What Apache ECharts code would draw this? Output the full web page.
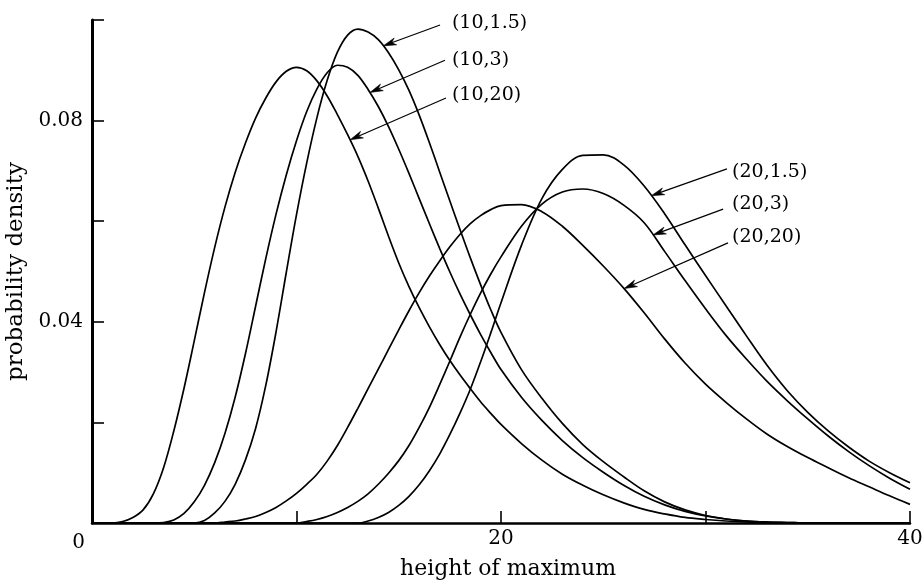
<!DOCTYPE html>
<html>
<head>
<meta charset="utf-8">
<script src="https://cdn.jsdelivr.net/npm/echarts@6/dist/echarts.min.js"></script>
<style>
  html, body { margin: 0; padding: 0; background: #fff; }
  #chart { width: 922px; height: 580px; }
</style>
</head>
<body>
<div id="chart"></div>
<script>
// Height of maximum (x values shared by every curve)
const heights = [
  0, 0.5, 1, 1.5, 2, 2.5, 3, 3.5, 4, 4.5, 5, 5.5, 6, 6.5, 7, 7.5, 8, 8.5, 9, 9.5,
  10, 10.5, 11, 11.5, 12, 12.5, 13, 13.5, 14, 14.5, 15, 15.5, 16, 16.5, 17, 17.5,
  18, 18.5, 19, 19.5, 20,
  21, 22, 23, 24, 25, 26, 27, 28, 29, 30, 31, 32, 33, 34, 35, 36, 37, 38, 39, 40
];

// Probability density for each parameter pair
const dens_10_20 = [
  0, 0, 0, 0.0003, 0.0011, 0.0026, 0.0058, 0.0110, 0.0183, 0.0268, 0.0362, 0.0458,
  0.0548, 0.0628, 0.0697, 0.0755, 0.0805, 0.0845, 0.0877, 0.0898,
  0.0906, 0.0899, 0.0879, 0.0849, 0.0812, 0.0772, 0.0729, 0.0680, 0.0626, 0.0570,
  0.0517, 0.0470, 0.0428, 0.0390, 0.0355, 0.0323, 0.0294, 0.0267, 0.0241, 0.0218, 0.0196,
  0.0158, 0.0125, 0.0097, 0.0075, 0.0056, 0.0040, 0.0027, 0.0018, 0.0011, 0.0007,
  0.0004, 0.0002, 0.0001, 0, 0, 0, 0, 0, 0, 0
];
const dens_10_3 = [
  0, 0, 0, 0, 0, 0, 0, 0.0001, 0.0006, 0.0019, 0.0042, 0.0075, 0.0120, 0.0178,
  0.0250, 0.0336, 0.0431, 0.0526, 0.0614, 0.0692,
  0.0760, 0.0818, 0.0863, 0.0895, 0.0910, 0.0906, 0.0890, 0.0862, 0.0828, 0.0788,
  0.0743, 0.0695, 0.0645, 0.0595, 0.0546, 0.0499, 0.0455, 0.0414, 0.0375, 0.0339, 0.0305,
  0.0250, 0.0204, 0.0164, 0.0130, 0.0101, 0.0075, 0.0053, 0.0036, 0.0023, 0.0014,
  0.0008, 0.0004, 0.0002, 0.0001, 0, 0, 0, 0, 0, 0
];
const dens_10_1p5 = [
  0, 0, 0, 0, 0, 0, 0, 0, 0, 0, 0, 0.0005, 0.0020, 0.0043, 0.0077, 0.0125, 0.0188,
  0.0274, 0.0380, 0.0498,
  0.0613, 0.0716, 0.0806, 0.0880, 0.0936, 0.0970, 0.0982, 0.0976, 0.0961, 0.0935,
  0.0901, 0.0860, 0.0811, 0.0756, 0.0698, 0.0640, 0.0583, 0.0527, 0.0474, 0.0424, 0.0379,
  0.0305, 0.0248, 0.0198, 0.0156, 0.0122, 0.0092, 0.0064, 0.0042, 0.0026, 0.0015,
  0.0008, 0.0004, 0.0002, 0.0001, 0, 0, 0, 0, 0, 0
];
const dens_20_20 = [
  0, 0, 0, 0, 0, 0, 0, 0, 0, 0, 0, 0, 0, 0.0002, 0.0004, 0.0008, 0.0013, 0.0021,
  0.0031, 0.0044,
  0.0059, 0.0077, 0.0097, 0.0123, 0.0154, 0.0190, 0.0228, 0.0267, 0.0306, 0.0345,
  0.0384, 0.0422, 0.0458, 0.0491, 0.0521, 0.0549, 0.0574, 0.0595, 0.0611, 0.0623, 0.0631,
  0.0633, 0.0619, 0.0590, 0.0552, 0.0511, 0.0467, 0.0418, 0.0366, 0.0318, 0.0276,
  0.0240, 0.0207, 0.0177, 0.0152, 0.0130, 0.0110, 0.0090, 0.0072, 0.0054, 0.0037
];
const dens_20_3 = [
  0, 0, 0, 0, 0, 0, 0, 0, 0, 0, 0, 0, 0, 0, 0, 0, 0, 0, 0, 0,
  0, 0.0003, 0.0007, 0.0013, 0.0021, 0.0031, 0.0043, 0.0058, 0.0077, 0.0099,
  0.0124, 0.0154, 0.0190, 0.0230, 0.0275, 0.0322, 0.0370, 0.0415, 0.0457, 0.0495, 0.0529,
  0.0590, 0.0634, 0.0658, 0.0664, 0.0655, 0.0632, 0.0597, 0.0540, 0.0482, 0.0426,
  0.0373, 0.0326, 0.0282, 0.0243, 0.0207, 0.0173, 0.0142, 0.0114, 0.0089, 0.0067
];
const dens_20_1p5 = [
  0, 0, 0, 0, 0, 0, 0, 0, 0, 0, 0, 0, 0, 0, 0, 0, 0, 0, 0, 0,
  0, 0, 0, 0, 0, 0, 0, 0.0004, 0.0011, 0.0021,
  0.0035, 0.0053, 0.0076, 0.0104, 0.0137, 0.0176, 0.0219, 0.0266, 0.0320, 0.0378, 0.0438,
  0.0552, 0.0645, 0.0703, 0.0731, 0.0732, 0.0712, 0.0670, 0.0615, 0.0553, 0.0492,
  0.0432, 0.0372, 0.0314, 0.0263, 0.0220, 0.0183, 0.0151, 0.0123, 0.0100, 0.0080
];

const curveNames = ['(10,20)', '(10,3)', '(10,1.5)', '(20,20)', '(20,3)', '(20,1.5)'];
const curveValues = [dens_10_20, dens_10_3, dens_10_1p5, dens_20_20, dens_20_3, dens_20_1p5];

// Tick labels shown on the axes
const xTickLabels = [0, 20, 40];
const yTickLabels = [0.04, 0.08];

// Call-out arrows: which curve, where the arrow touches it (x), where its tail sits and where the text starts
const callouts = [
  { curve: '(10,1.5)', tipX: 14.24, tail: [17.02, 0.0990], textAt: [17.6, 0.0994] },
  { curve: '(10,3)',   tipX: 13.59, tail: [17.26, 0.0920], textAt: [17.6, 0.0920] },
  { curve: '(10,20)',  tipX: 12.62, tail: [17.31, 0.0845], textAt: [17.6, 0.0851] },
  { curve: '(20,1.5)', tipX: 27.35, tail: [31.05, 0.0704], textAt: [31.3, 0.0698] },
  { curve: '(20,3)',   tipX: 27.43, tail: [30.86, 0.0624], textAt: [31.3, 0.0634] },
  { curve: '(20,20)',  tipX: 26.02, tail: [31.10, 0.0557], textAt: [31.3, 0.0569] }
];

const FONT = '"DejaVu Serif", "Liberation Serif", serif';
const near = (a, b) => Math.abs(a - b) < 1e-9;

const chart = echarts.init(document.getElementById('chart'), null, { renderer: 'canvas' });

chart.setOption({
  backgroundColor: '#ffffff',
  animation: false,
  grid: { left: 92, right: 12, top: 20, bottom: 57, containLabel: false, outerBoundsMode: 'none' },
  xAxis: {
    type: 'value',
    min: 0, max: 40, interval: 10,
    name: 'height of maximum',
    nameLocation: 'middle',
    nameGap: 27,
    nameTextStyle: { fontFamily: FONT, fontSize: 22, color: '#000', padding: [0, 0, 0, 14] },
    axisLine: { show: true, onZero: false, lineStyle: { color: '#000', width: 2.5 } },
    axisTick: { show: true, inside: true, length: 12, lineStyle: { color: '#000', width: 1.6 } },
    splitLine: { show: false },
    axisLabel: {
      margin: 6,
      fontFamily: FONT, fontSize: 20, color: '#000',
      alignMinLabel: 'right',
      formatter: v => {
        if (near(v, 0)) return '{z|0}';
        return xTickLabels.some(t => near(t, v)) ? String(v) : '';
      },
      rich: { z: { fontFamily: FONT, fontSize: 20, color: '#000', padding: [4, 7, 0, 0] } }
    }
  },
  yAxis: {
    type: 'value',
    min: 0, max: 0.1, interval: 0.02,
    name: 'probability density',
    nameLocation: 'middle',
    nameGap: 53,
    nameTextStyle: { fontFamily: FONT, fontSize: 23, color: '#000' },
    axisLine: { show: true, onZero: false, lineStyle: { color: '#000', width: 3 } },
    axisTick: { show: true, inside: true, length: 12, lineStyle: { color: '#000', width: 1.6 } },
    splitLine: { show: false },
    axisLabel: {
      margin: 9,
      fontFamily: FONT, fontSize: 20, color: '#000',
      formatter: v => (yTickLabels.some(t => near(t, v)) ? v.toFixed(2) : '')
    }
  },
  series: curveNames.map((name, k) => ({
    name,
    type: 'line',
    data: heights.map((x, i) => [x, curveValues[k][i]]),
    showSymbol: false,
    smooth: 0.35,
    silent: true,
    lineStyle: { color: '#000', width: 1.7 },
    itemStyle: { color: '#000' }
  }))
});

// linear lookup of a curve's value at x, so arrow tips land on the drawn line
function valueAt(values, x) {
  for (let i = 1; i < heights.length; i++) {
    if (x <= heights[i]) {
      const t = (x - heights[i - 1]) / (heights[i] - heights[i - 1]);
      return values[i - 1] + t * (values[i] - values[i - 1]);
    }
  }
  return values[values.length - 1];
}

const graphics = [];
callouts.forEach(c => {
  const values = curveValues[curveNames.indexOf(c.curve)];
  const tip = chart.convertToPixel({ gridIndex: 0 }, [c.tipX, valueAt(values, c.tipX)]);
  const tail = chart.convertToPixel({ gridIndex: 0 }, c.tail);
  const txt = chart.convertToPixel({ gridIndex: 0 }, c.textAt);

  const dx = tail[0] - tip[0], dy = tail[1] - tip[1];
  const len = Math.hypot(dx, dy);
  const ux = dx / len, uy = dy / len;     // unit vector from tip towards tail
  const px = -uy, py = ux;                // perpendicular
  const headLen = 13, headHalf = 3.6, notch = 9;

  graphics.push({
    type: 'line', silent: true,
    shape: { x1: tail[0], y1: tail[1], x2: tip[0] + ux * notch, y2: tip[1] + uy * notch },
    style: { stroke: '#000', lineWidth: 1.2 }
  });
  graphics.push({
    type: 'polygon', silent: true,
    shape: {
      points: [
        [tip[0], tip[1]],
        [tip[0] + ux * headLen + px * headHalf, tip[1] + uy * headLen + py * headHalf],
        [tip[0] + ux * notch, tip[1] + uy * notch],
        [tip[0] + ux * headLen - px * headHalf, tip[1] + uy * headLen - py * headHalf]
      ]
    },
    style: { fill: '#000', stroke: '#000', lineWidth: 0.6 }
  });
  graphics.push({
    type: 'text', silent: true,
    x: txt[0], y: txt[1],
    style: {
      text: c.curve,
      font: '19px ' + FONT,
      fill: '#000',
      align: 'left',
      verticalAlign: 'middle'
    }
  });
});

chart.setOption({ graphic: graphics });
</script>
</body>
</html>
